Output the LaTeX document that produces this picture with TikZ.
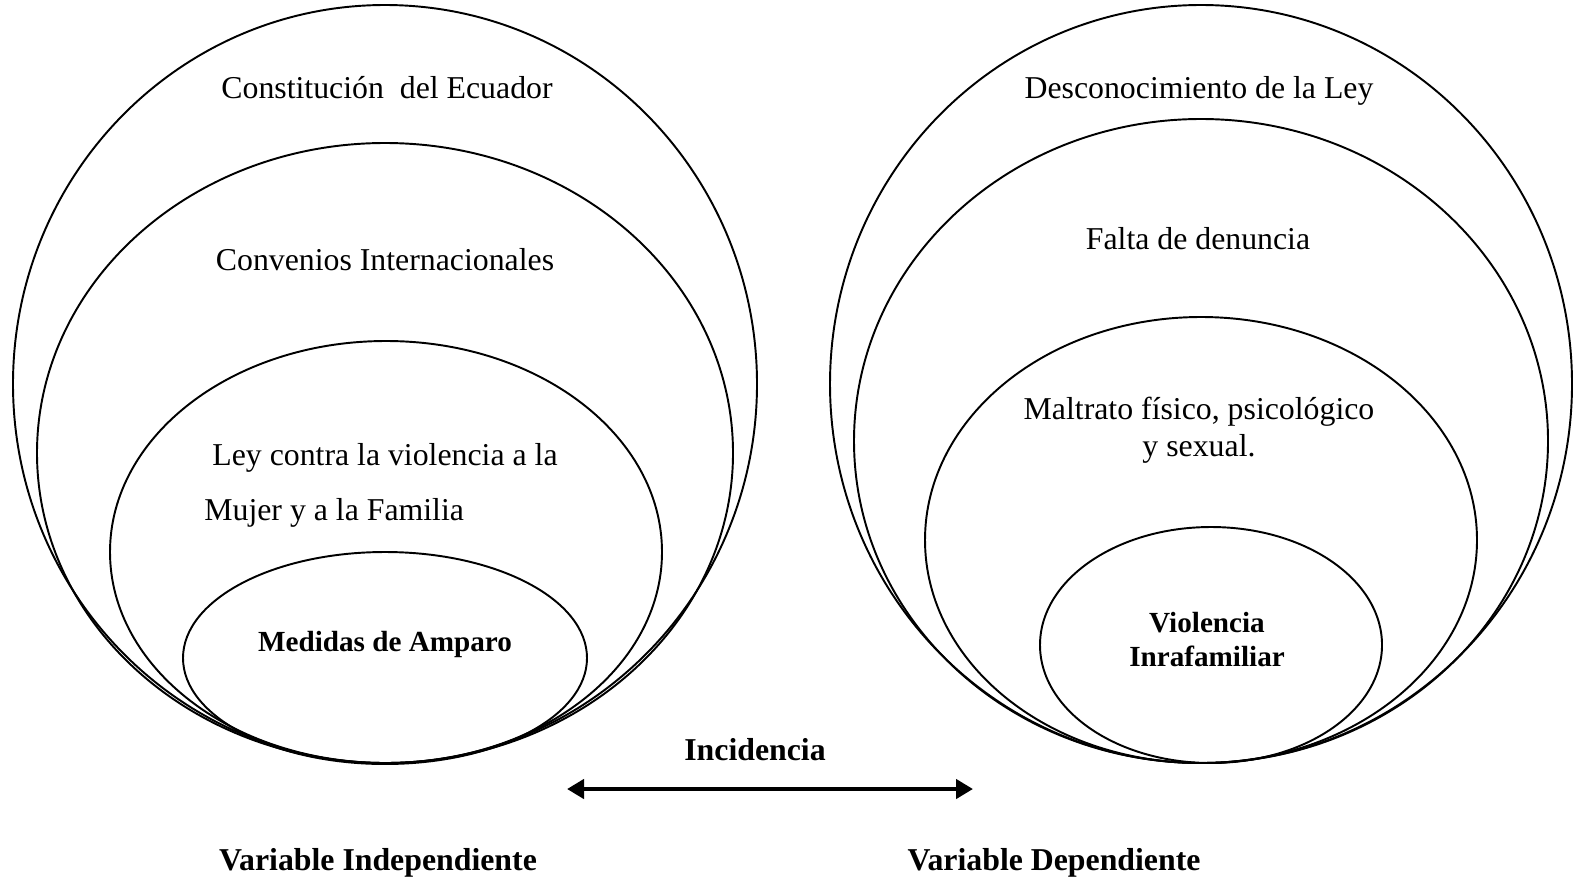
\documentclass[tikz,border=0pt]{standalone}
\usepackage{fontspec}
\setmainfont{Liberation Serif}
\usetikzlibrary{arrows.meta}

\begin{document}
\begin{tikzpicture}[x=0.02cm, y=-0.02cm,
                capa/.style ={draw, black, line width=1.1pt},
                texto/.style ={inner sep=0, anchor=base, font=\fontsize{18.1}{21}\selectfont},
                titulo/.style ={texto, font=\fontsize{18.1}{21}\selectfont\bfseries},
                centro/.style ={texto, font=\fontsize{16.6}{19}\selectfont\bfseries},
                flecha/.style ={{Triangle[length=0.34cm,width=0.38cm]}-{Triangle[length=0.34cm,width=0.38cm]}, line width=2.8pt}]

            \useasboundingbox (0,0) rectangle (1574,883);

            %variable independiente
            \draw[capa] (385,384) ellipse [x radius=372, y radius=379];
            \draw[capa] (385,453) ellipse [x radius=348, y radius=310];
            \draw[capa] (386,552) ellipse [x radius=276, y radius=211];
            \draw[capa] (385,658) ellipse [x radius=202, y radius=106];

            \node[texto] (const) at (387,98) {Constitución\ \ del Ecuador};
            \node[texto] (conv) at (385,270) {Convenios Internacionales};
            \node[texto, anchor=base west] (ley1) at (212,465) {Ley contra la violencia a la};
            \node[texto, anchor=base west] (ley2) at (204,520) {Mujer y a la Familia};
            \node[centro] (medidas) at (385,651) {Medidas de Amparo};

            %variable dependiente
            \draw[capa] (1201,384) ellipse [x radius=371, y radius=379];
            \draw[capa] (1201,441) ellipse [x radius=347, y radius=322];
            \draw[capa] (1201,540) ellipse [x radius=276, y radius=223];
            \draw[capa] (1211,645) ellipse [x radius=171, y radius=118];

            \node[texto] (desc) at (1199,98) {Desconocimiento de la Ley};
            \node[texto] (falta) at (1198,249) {Falta de denuncia};
            \node[texto] (malt1) at (1199,419) {Maltrato físico, psicológico};
            \node[texto] (malt2) at (1199,456) {y sexual.};
            \node[centro] (viol1) at (1207,632) {Violencia};
            \node[centro] (viol2) at (1207,666) {Inrafamiliar};

            %incidencia
            \node[titulo] (inc) at (755,760) {Incidencia};
            \coordinate (izq) at (567,789);
            \coordinate (der) at (973,789);
            \draw[flecha] (izq) -- (der);

            \node[titulo] (vi) at (378,870) {Variable Independiente};
            \node[titulo] (vd) at (1054,870) {Variable Dependiente};
\end{tikzpicture}
\end{document}
